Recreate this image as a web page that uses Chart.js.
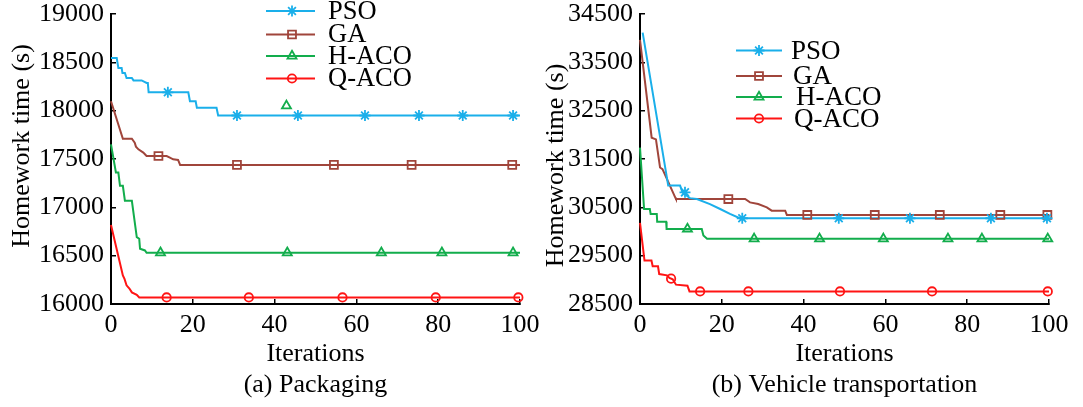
<!DOCTYPE html>
<html><head><meta charset="utf-8">
<script src="https://cdn.jsdelivr.net/npm/chart.js@4/dist/chart.umd.min.js"></script>
<style>
html,body{margin:0;padding:0;background:#fff;overflow:hidden}
#wrap{position:relative;width:1083px;height:407px;background:#fff}
.box{position:absolute;top:0;height:407px}
#b1{left:0;width:541px}
#b2{left:541px;width:542px}
canvas{display:block}
</style></head><body>
<div id="wrap">
<div class="box" id="b1"><canvas id="c1" width="541" height="407"></canvas></div>
<div class="box" id="b2"><canvas id="c2" width="542" height="407"></canvas></div>
</div>
<script>
// ---------- data ----------
const seriesNames = ['PSO', 'GA', 'H-ACO', 'Q-ACO'];
const xTickValues = [0, 20, 40, 60, 80, 100];
const pkgYTickValues = [16000, 16500, 17000, 17500, 18000, 18500, 19000];
const vehYTickValues = [28500, 29500, 30500, 31500, 32500, 33500, 34500];

// (a) Packaging – convergence curves (iteration, homework time)
const pkgPsoIter = [0, 1.4, 1.8, 2.6, 2.8, 3.4, 3.8, 5.1, 5.5, 7.5, 8.7, 9.0, 9.2, 18.9, 19.3, 20.7, 21.0, 25.8, 26.2, 100];
const pkgPsoTime = [18544, 18544, 18441, 18441, 18390, 18390, 18338, 18338, 18313, 18313, 18287, 18287, 18190, 18190, 18097, 18097, 18029, 18029, 17950, 17950];
const pkgGaIter = [0, 2.9, 5.1, 5.8, 6.1, 6.7, 7.9, 8.3, 8.7, 13.6, 14.4, 15.2, 16.4, 16.9, 100];
const pkgGaTime = [18097, 17710, 17710, 17669, 17628, 17600, 17566, 17549, 17531, 17531, 17515, 17497, 17490, 17439, 17439];
const pkgHacoIter = [0, 1.2, 1.8, 2.2, 2.9, 3.4, 5.1, 6.3, 6.9, 7.1, 8.3, 8.7, 100];
const pkgHacoTime = [17652, 17360, 17360, 17223, 17223, 17068, 17068, 16692, 16675, 16571, 16554, 16530, 16530];
const pkgQacoIter = [0, 2.9, 3.3, 3.8, 4.5, 5.1, 6.3, 6.9, 100];
const pkgQacoTime = [16818, 16296, 16260, 16193, 16160, 16120, 16095, 16068, 16068];
// (a) markers
const pkgPsoMarkIter = [13.9, 30.8, 45.7, 62.1, 75.3, 86.0, 98.3];
const pkgPsoMarkTime = [18190, 17950, 17950, 17950, 17950, 17950, 17950];
const pkgGaMarkIter = [11.6, 30.8, 54.5, 73.5, 98.1];
const pkgGaMarkTime = [17531, 17439, 17439, 17439, 17439];
const pkgHacoMarkIter = [12.1, 42.9, 43.1, 66.1, 80.9, 98.3];
const pkgHacoMarkTime = [16530, 18050, 16530, 16530, 16530, 16530];
const pkgQacoMarkIter = [13.6, 33.7, 56.6, 79.4, 99.6];
const pkgQacoMarkTime = [16068, 16068, 16068, 16068, 16068];

// (b) Vehicle transportation – convergence curves
const vehPsoIter = [0.65, 6.9, 9.8, 10.4, 12.2, 13.9, 17.1, 19.6, 22, 24.4, 100];
const vehPsoTime = [34115, 30950, 30950, 30810, 30690, 30671, 30568, 30466, 30363, 30274, 30274];
const vehGaIter = [0, 2.85, 3.9, 4.9, 5.5, 8.6, 8.8, 25.7, 26.9, 28.9, 31, 32.2, 35.5, 35.9, 100];
const vehGaTime = [33965, 31941, 31906, 31324, 31289, 30706, 30672, 30672, 30603, 30568, 30500, 30431, 30431, 30342, 30342];
const vehHacoIter = [0, 1.0, 2.4, 2.6, 4.1, 4.2, 6.4, 6.5, 15.1, 15.5, 16.4, 100];
const vehHacoTime = [31735, 30466, 30466, 30363, 30363, 30204, 30204, 30054, 30054, 29916, 29848, 29848];
const vehQacoIter = [0, 1.1, 2.8, 3.1, 4.4, 4.7, 6.6, 7.2, 8.0, 8.8, 11.6, 12.1, 100];
const vehQacoTime = [30177, 29400, 29400, 29280, 29280, 29120, 29093, 29040, 29010, 28900, 28880, 28760, 28760];
// (b) markers
const vehPsoMarkIter = [11, 25, 48.6, 66, 85.8, 99.5];
const vehPsoMarkTime = [30810, 30274, 30274, 30274, 30274, 30274];
const vehGaMarkIter = [21.6, 40.9, 57.4, 73.3, 88.1, 99.6];
const vehGaMarkTime = [30672, 30342, 30342, 30342, 30342, 30342];
const vehHacoMarkIter = [11.6, 27.9, 43.9, 59.5, 75.3, 83.6, 99.7];
const vehHacoMarkTime = [30054, 29848, 29848, 29848, 29848, 29848, 29848];
const vehQacoMarkIter = [7.6, 14.7, 26.5, 48.9, 71.4, 99.7];
const vehQacoMarkTime = [29025, 28760, 28760, 28760, 28760, 28760];

// ---------- styles ----------
const FONT = '"Liberation Serif", "Times New Roman", serif';
const seriesStyle = [
  { color: '#1AAFEA', point: 'star', radius: 5.5 },
  { color: '#A0453B', point: 'rect', radius: 5.6 },
  { color: '#12AD4C', point: 'triangle', radius: 5.2 },
  { color: '#FF1414', point: 'circle', radius: 4.2 }
];

const pts = (xs, ys) => xs.map((x, i) => ({ x: x, y: ys[i] }));

function buildDatasets(lines, marks) {
  const ds = [];
  lines.forEach((l, i) => {
    ds.push({
      label: seriesNames[i], data: pts(l[0], l[1]),
      borderColor: seriesStyle[i].color, borderWidth: 2, pointRadius: 0,
      fill: false, tension: 0, clip: false, order: 2
    });
  });
  marks.forEach((m, i) => {
    ds.push({
      label: seriesNames[i] + ' markers', data: pts(m[0], m[1]), showLine: false,
      pointStyle: seriesStyle[i].point, pointRadius: seriesStyle[i].radius,
      pointBorderColor: seriesStyle[i].color, pointBackgroundColor: 'rgba(0,0,0,0)',
      pointBorderWidth: 1.8, clip: false, order: 1
    });
  });
  return ds;
}

const legendPlugin = {
  id: 'seriesLegend',
  afterDraw(chart, args, o) {
    const ctx = chart.ctx;
    ctx.save();
    seriesNames.forEach((name, i) => {
      const y = o.rows[i];
      const st = seriesStyle[i];
      ctx.strokeStyle = st.color; ctx.lineWidth = 2;
      ctx.beginPath(); ctx.moveTo(o.x0, y); ctx.lineTo(o.x1, y); ctx.stroke();
      ctx.fillStyle = 'rgba(0,0,0,0)'; ctx.lineWidth = 1.8;
      Chart.helpers.drawPoint(ctx, { pointStyle: st.point, radius: st.radius, borderWidth: 1.8, rotation: 0 }, o.mx, y);
      ctx.fillStyle = '#000';
      ctx.font = o.fontSize + 'px ' + FONT;
      ctx.textBaseline = 'middle'; ctx.textAlign = 'left';
      ctx.fillText(name, o.tx[i], y + 1);
    });
    ctx.restore();
  }
};

function makeChart(id, lines, marks, yTicks, yWidth, padRight, yTitlePad, yTitle, yTickSize, subTitle, legendOpts) {
  return new Chart(document.getElementById(id), {
    type: 'line',
    data: { datasets: buildDatasets(lines, marks) },
    plugins: [legendPlugin],
    options: {
      responsive: false, animation: false, events: [],
      layout: { padding: { left: 0, right: padRight, top: 14, bottom: 0 } },
      plugins: { legend: { display: false }, tooltip: { enabled: false }, seriesLegend: legendOpts },
      scales: {
        x: {
          type: 'linear', min: xTickValues[0], max: xTickValues[xTickValues.length - 1],
          afterBuildTicks: s => { s.ticks = xTickValues.map(v => ({ value: v })); },
          afterFit: s => { s.height = 103; s.paddingLeft = 0; s.paddingRight = 0; },
          grid: { drawOnChartArea: false, drawTicks: true, tickLength: -5, color: '#000', lineWidth: 1.5 },
          border: { color: '#000', width: 2 },
          ticks: { color: '#000', font: { family: FONT, size: 26 }, padding: 11, maxRotation: 0, autoSkip: false },
          title: { display: true, text: ['Iterations', subTitle], color: '#000',
                   font: { family: FONT, size: 26, lineHeight: 1.2 }, padding: { top: 0, bottom: 6 } }
        },
        y: {
          type: 'linear', min: yTicks[0], max: yTicks[yTicks.length - 1],
          afterBuildTicks: s => { s.ticks = yTicks.map(v => ({ value: v })); },
          afterFit: s => { s.width = yWidth; s.paddingTop = 0; s.paddingBottom = 0; },
          grid: { drawOnChartArea: false, drawTicks: true, tickLength: -5, color: '#000', lineWidth: 1.5 },
          border: { color: '#000', width: 2 },
          ticks: { color: '#000', font: { family: FONT, size: yTickSize }, padding: 12, autoSkip: false,
                   callback: v => String(v) },
          title: { display: true, text: yTitle, color: '#000',
                   font: { family: FONT, size: 26, lineHeight: 1.2 }, padding: { top: yTitlePad, bottom: 0 } }
        }
      }
    }
  });
}

makeChart('c1',
  [[pkgPsoIter, pkgPsoTime], [pkgGaIter, pkgGaTime], [pkgHacoIter, pkgHacoTime], [pkgQacoIter, pkgQacoTime]],
  [[pkgPsoMarkIter, pkgPsoMarkTime], [pkgGaMarkIter, pkgGaMarkTime], [pkgHacoMarkIter, pkgHacoMarkTime], [pkgQacoMarkIter, pkgQacoMarkTime]],
  pkgYTickValues, 111, 21, 7, '    Homework time (s)', 26, '(a) Packaging',
  { x0: 266, x1: 315, mx: 292, tx: [328, 328, 328, 328], rows: [11, 34.5, 56, 78.5], fontSize: 26.5 });

makeChart('c2',
  [[vehPsoIter, vehPsoTime], [vehGaIter, vehGaTime], [vehHacoIter, vehHacoTime], [vehQacoIter, vehQacoTime]],
  [[vehPsoMarkIter, vehPsoMarkTime], [vehGaMarkIter, vehGaMarkTime], [vehHacoMarkIter, vehHacoMarkTime], [vehQacoMarkIter, vehQacoMarkTime]],
  vehYTickValues, 99, 34, 0, 'Homework time (s)  ', 26, '(b) Vehicle transportation',
  { x0: 195, x1: 241, mx: 218, tx: [250, 252, 255, 253], rows: [50.5, 76, 97, 118.5], fontSize: 27 });
</script>
</body></html>
